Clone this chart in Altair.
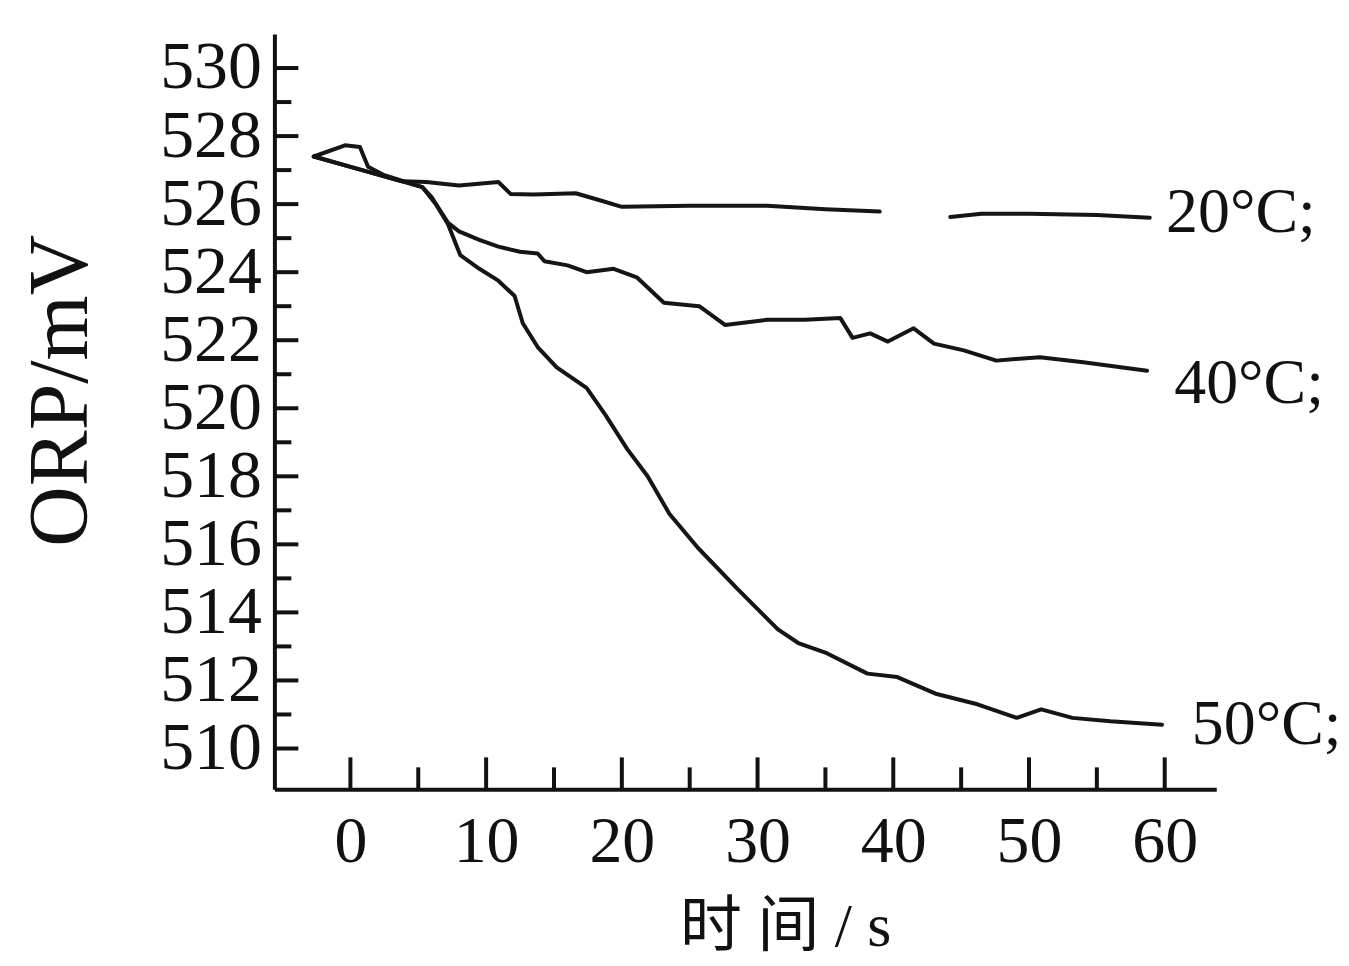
import altair as alt
import pandas as pd

# ---- data ----
t20a = [-2.7, 0.6, 3.8, 5.6, 8.0, 10.9, 11.8, 13.5, 16.6, 18.5, 20.0, 25.0, 30.7, 35.0, 39.0]
v20a = [527.4, 527.03, 526.67, 526.65, 526.55, 526.65, 526.3, 526.28, 526.32, 526.1, 525.92, 525.95, 525.95, 525.85, 525.78]
t20b = [44.2, 46.5, 50.0, 55.0, 58.9]
v20b = [525.62, 525.72, 525.72, 525.68, 525.6]

t40 = [-2.7, 0.6, 3.8, 5.3, 6.3, 7.2, 8.0, 9.5, 10.9, 12.5, 13.8, 14.3, 16.0, 17.4, 19.4, 21.1,
       23.1, 25.7, 27.6, 30.7, 33.5, 36.1, 37.0, 38.3, 39.6, 41.5, 43.0, 45.2, 47.6, 49.0, 50.8, 54.0, 58.7]
v40 = [527.4, 527.03, 526.67, 526.5, 526.0, 525.45, 525.2, 524.95, 524.75, 524.6, 524.55, 524.32, 524.2, 524.0, 524.1, 523.85,
       523.1, 523.0, 522.45, 522.6, 522.6, 522.65, 522.07, 522.2, 521.96, 522.35, 521.9, 521.7, 521.4, 521.45, 521.5, 521.35, 521.1]

t50 = [-2.7, -0.4, 0.7, 1.3, 2.5, 5.3, 6.0, 7.2, 8.1, 9.5, 10.9, 12.1, 12.7, 13.8, 15.2, 17.4, 18.8, 20.4,
       21.9, 23.5, 25.6, 28.5, 31.5, 33.0, 35.1, 38.1, 40.3, 43.2, 46.2, 49.1, 50.9, 53.2, 56.0, 59.8]
v50 = [527.4, 527.73, 527.68, 527.1, 526.85, 526.5, 526.2, 525.4, 524.5, 524.1, 523.75, 523.3, 522.5, 521.8, 521.2, 520.6, 519.8, 518.8,
       518.0, 516.9, 515.9, 514.7, 513.5, 513.1, 512.8, 512.2, 512.1, 511.6, 511.3, 510.9, 511.15, 510.9, 510.8, 510.7]

label_text = ["20°C;", "40°C;", "50°C;"]
label_t = [60.1, 60.7, 62.0]
label_v = [525.73, 520.7, 510.7]

y_major = list(range(510, 531, 2))
y_minor = list(range(511, 530, 2))
x_major = list(range(0, 61, 10))
x_minor = list(range(5, 56, 10))

# ---- tables ----
rows = []
for ts, vs, name, seg in [(t20a, v20a, "20", "a"), (t20b, v20b, "20", "b"),
                          (t40, v40, "40", "a"), (t50, v50, "50", "a")]:
    for i, (t, v) in enumerate(zip(ts, vs)):
        rows.append({"t": t, "v": v, "series": name, "seg": name + seg, "i": i})
df = pd.DataFrame(rows)
labels = pd.DataFrame({"text": label_text, "t": label_t, "v": label_v})

W, H = 944, 757
FONT = "Liberation Serif"
xs = alt.Scale(domain=[-5.6, 63.8], nice=False, zero=False)
ys = alt.Scale(domain=[508.8, 531], nice=False, zero=False)

x_axis = alt.Axis(values=x_major, format="d", ticks=False, grid=False, domainWidth=4, domainColor="#111",
                  labelFont=FONT, labelFontSize=66, labelColor="#111", labelPadding=20, labelOverlap=False,
                  title="时 间 / s", titleFont="Liberation Serif, Noto Sans CJK SC", titleFontSize=62,
                  titleFontWeight="normal", titleColor="#111", titleX=512, titleY=138, titleBaseline="middle")
y_axis = alt.Axis(values=y_major, format="d", ticks=False, grid=False, domainWidth=4, domainColor="#111",
                  labelFont=FONT, labelFontSize=68, labelColor="#111", labelPadding=13, labelOverlap=False,
                  title="ORP/mV", titleFont=FONT, titleFontSize=84, titleFontWeight="normal", titleColor="#111",
                  titleX=-213, titleY=357, titleBaseline="middle", titleAngle=270)

lines = alt.Chart(df).mark_line(color="#151515", strokeWidth=4, strokeJoin="round", strokeCap="round").encode(
    x=alt.X("t:Q", scale=xs, axis=x_axis),
    y=alt.Y("v:Q", scale=ys, axis=y_axis),
    detail="seg:N",
    order="i:Q",
)

ymaj = alt.Chart(pd.DataFrame({"v": y_major})).mark_rule(color="#111", strokeWidth=4).encode(
    y=alt.Y("v:Q", scale=ys), x=alt.value(0), x2=alt.value(24))
ymin = alt.Chart(pd.DataFrame({"v": y_minor})).mark_rule(color="#111", strokeWidth=4).encode(
    y=alt.Y("v:Q", scale=ys), x=alt.value(0), x2=alt.value(17))
xmaj = alt.Chart(pd.DataFrame({"t": x_major})).mark_rule(color="#111", strokeWidth=4).encode(
    x=alt.X("t:Q", scale=xs), y=alt.value(H - 32), y2=alt.value(H))
xmin = alt.Chart(pd.DataFrame({"t": x_minor})).mark_rule(color="#111", strokeWidth=4).encode(
    x=alt.X("t:Q", scale=xs), y=alt.value(H - 22), y2=alt.value(H))

text = alt.Chart(labels).mark_text(font=FONT, fontSize=64, color="#111", align="left", baseline="middle").encode(
    x=alt.X("t:Q", scale=xs), y=alt.Y("v:Q", scale=ys), text="text:N")

chart = alt.layer(lines, ymaj, ymin, xmaj, xmin, text).properties(
    width=W, height=H,
    background="white",
    autosize=alt.AutoSizeParams(type="none"),
    padding={"left": 267, "top": 25, "right": 125, "bottom": 175},
).configure_view(strokeWidth=0, stroke=None)

chart.save("out.html", embed_options={"renderer": "svg", "actions": False})
